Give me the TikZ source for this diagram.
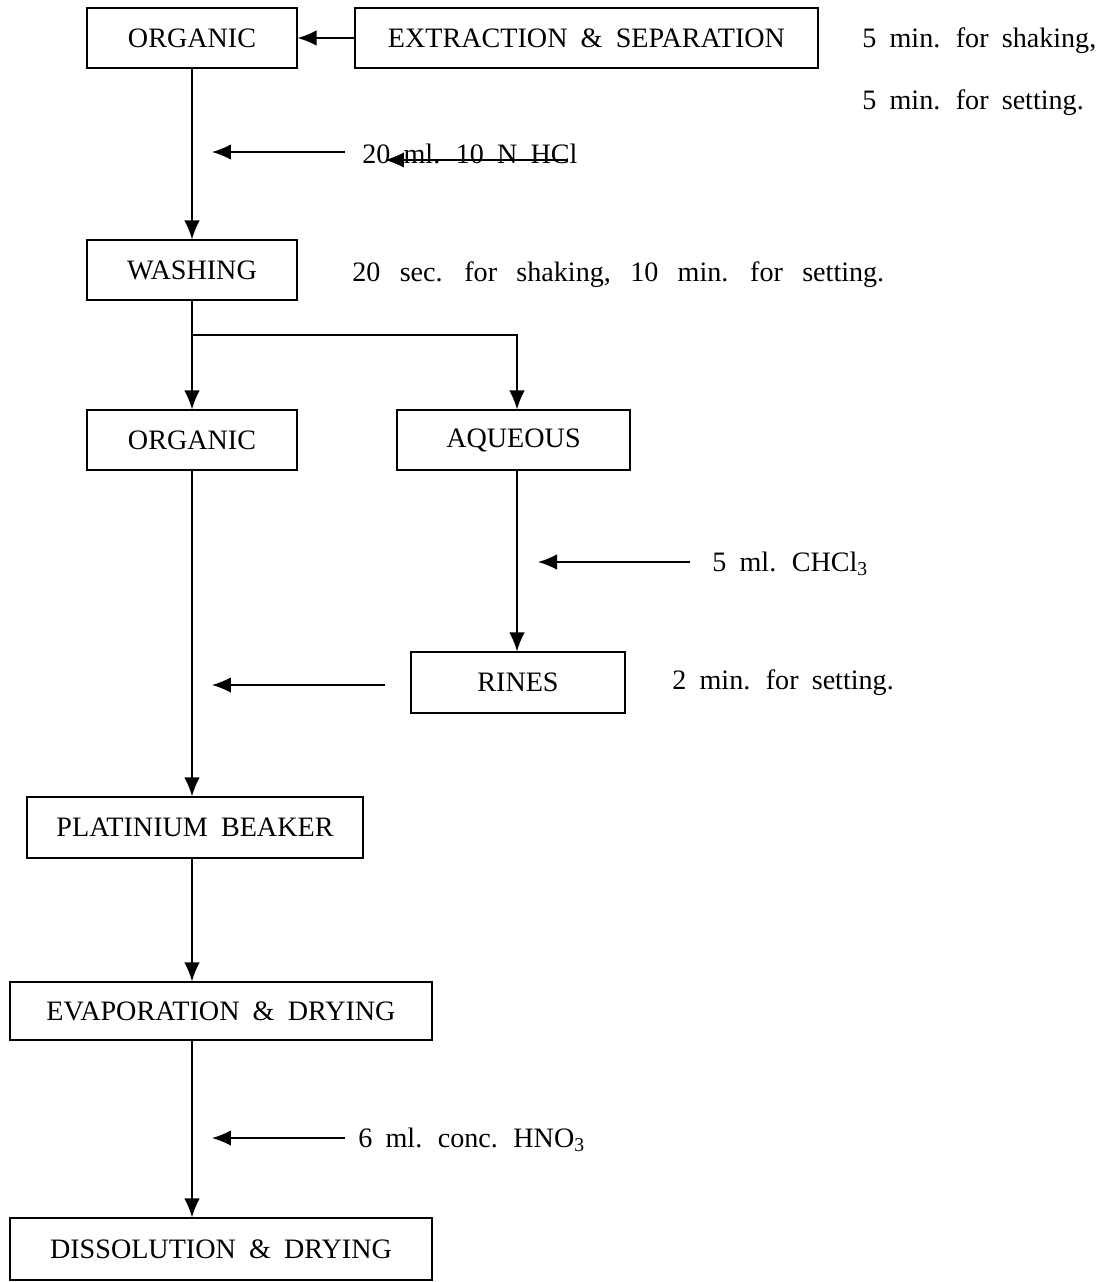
\documentclass[tikz,border=0pt]{standalone}
\usepackage{fontspec}
\setmainfont{Liberation Serif}
\usetikzlibrary{arrows.meta}
\newcommand{\chartfont}{\fontsize{16}{19}\selectfont\spaceskip=7.5pt\relax}
\newcommand{\widefont}{\fontsize{16}{19}\selectfont\spaceskip=11pt\relax}

\begin{document}
\begin{tikzpicture}[x=0.02cm,y=-0.02cm]
\tikzset{
  stepbox/.style={draw,line width=0.7pt,inner sep=0pt,minimum height=1.2cm,font=\chartfont},
  note/.style={anchor=base west,inner sep=0pt,font=\chartfont},
  widenote/.style={anchor=base west,inner sep=0pt,font=\widefont},
  flow/.style={-{Latex[length=3.8mm,width=3.1mm]},line width=0.8pt},
  link/.style={line width=0.8pt}
}
\useasboundingbox (0,0) rectangle (1105,1282);
\node[stepbox,minimum width=4.2cm] (n_org1) at (192,38) {ORGANIC};
\node[stepbox,minimum width=9.26cm] (n_ext) at (586.5,38) {EXTRACTION \& SEPARATION};
\node[stepbox,minimum width=4.2cm] (n_wash) at (192,270) {WASHING};
\node[stepbox,minimum width=4.2cm] (n_org2) at (192,440) {ORGANIC};
\node[stepbox,minimum width=4.66cm] (n_aq) at (513.5,440) {AQUEOUS};
\node[stepbox,minimum width=4.28cm,minimum height=1.22cm] (n_rines) at (518,682.5) {RINES};
\node[stepbox,minimum width=6.72cm,minimum height=1.22cm] (n_plat) at (195,827.5) {PLATINIUM BEAKER};
\node[stepbox,minimum width=8.44cm,minimum height=1.16cm] (n_evap) at (221,1011) {EVAPORATION \& DRYING};
\node[stepbox,minimum width=8.44cm,minimum height=1.24cm] (n_diss) at (221,1249) {DISSOLUTION \& DRYING};
\node[note] (n_shake) at (862,47) {5 min. for shaking,};
\node[note] (n_settle) at (862,109) {5 min. for setting.};
\node[note] (n_hcl) at (362,163) {20 ml. 10 N HCl};
\node[widenote] (n_washnote) at (352,281) {20 sec. for shaking, 10 min. for setting.};
\node[note] (n_chcl) at (712,571) {5 ml. CHCl\textsubscript{3}};
\node[note] (n_rinesnote) at (672,689) {2 min. for setting.};
\node[note] (n_hno) at (358,1147) {6 ml. conc. HNO\textsubscript{3}};
\coordinate (c_hclA) at (345,152);
\coordinate (c_hclB) at (212,152);
\coordinate (c_strikeA) at (568,160);
\coordinate (c_strikeB) at (385,160);
\coordinate (c_split) at (192,335);
\coordinate (c_turn) at (517,335);
\coordinate (c_chclA) at (690,562);
\coordinate (c_chclB) at (538,562);
\coordinate (c_rinseA) at (385,685);
\coordinate (c_rinseB) at (212,685);
\coordinate (c_hnoA) at (345,1138);
\coordinate (c_hnoB) at (212,1138);
\draw[flow] (n_ext) -- (n_org1);
\draw[flow] (n_org1) -- (n_wash);
\draw[flow] (c_hclA) -- (c_hclB);
\draw[flow] (c_strikeA) -- (c_strikeB);
\draw[flow] (n_wash) -- (n_org2);
\draw[flow] (c_split) -- (c_turn) -- (c_turn |- n_aq.north);
\draw[flow] (c_turn |- n_aq.south) -- (c_turn |- n_rines.north);
\draw[flow] (c_chclA) -- (c_chclB);
\draw[flow] (c_rinseA) -- (c_rinseB);
\draw[flow] (n_org2.south) -- (n_org2.south |- n_plat.north);
\draw[flow] (n_org2.south |- n_plat.south) -- (n_org2.south |- n_evap.north);
\draw[flow] (n_org2.south |- n_evap.south) -- (n_org2.south |- n_diss.north);
\draw[flow] (c_hnoA) -- (c_hnoB);
\end{tikzpicture}
\end{document}
